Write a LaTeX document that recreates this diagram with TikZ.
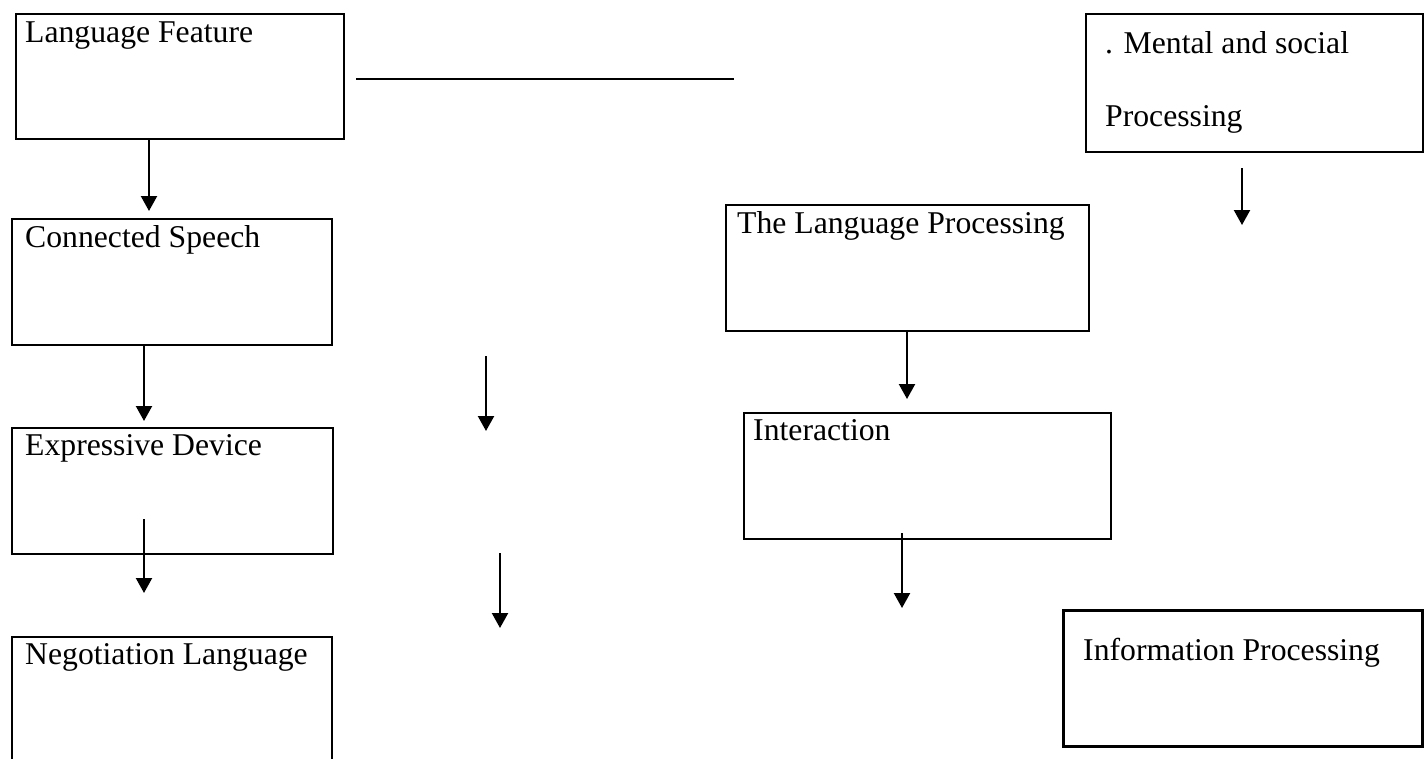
\documentclass[tikz,border=0pt]{standalone}
\usepackage{fontspec}
\setmainfont{Liberation Serif}
\usetikzlibrary{arrows.meta}

\begin{document}
\begin{tikzpicture}[x=1pt, y=-1pt,
		box/.style={draw, rectangle, line width=2.4pt, inner sep=0pt, anchor=north west},
		txt/.style={anchor=base west, inner sep=0pt, align=left, font=\fontsize{31.7}{38}\selectfont},
		arr/.style={-{Triangle[length=15pt, width=16pt]}, line width=2.2pt}]
		
		\useasboundingbox (0,0) rectangle (1424,758);
		\clip (0,0) rectangle (1424,758);
		
		% left column
		\node[box, minimum width=328pt, minimum height=125pt] (lf) at (15,13) {};
		\node[box, minimum width=320pt, minimum height=126pt] (cs) at (11,218) {};
		\node[box, minimum width=321pt, minimum height=126pt] (ed) at (11,427) {};
		\node[box, minimum width=320pt, minimum height=126pt] (nl) at (11,636) {};
		\node[txt] (lftext) at (25,42) {Language Feature};
		\node[txt] (cstext) at (25,247) {Connected Speech};
		\node[txt] (edtext) at (25,455) {Expressive Device};
		\node[txt] (nltext) at (25,664) {Negotiation Language};
		
		% right side
		\node[box, minimum width=337pt, minimum height=138pt] (ms) at (1085,13) {};
		\node[box, minimum width=363pt, minimum height=126pt] (tlp) at (725,204) {};
		\node[box, minimum width=367pt, minimum height=126pt] (int) at (743,412) {};
		\node[box, line width=3.2pt, minimum width=359pt, minimum height=136pt] (ip) at (1062,609) {};
		\node[txt, font=\fontsize{31.7}{73}\selectfont] (mstext) at (1105,126) {. Mental and social\\Processing};
		\node[txt] (tlptext) at (737,233) {The Language Processing};
		\node[txt] (inttext) at (753,440) {Interaction};
		\node[txt] (iptext) at (1083,660) {Information Processing};
		
		\coordinate (a1) at (149,211);
		\coordinate (a2) at (144,421);
		\coordinate (a3s) at (144,519);
		\coordinate (a3) at (144,593);
		\coordinate (m1s) at (486,356);
		\coordinate (m1) at (486,431);
		\coordinate (m2s) at (500,553);
		\coordinate (m2) at (500,628);
		\coordinate (r1s) at (1242,168);
		\coordinate (r1) at (1242,225);
		\coordinate (r2) at (907,399);
		\coordinate (r3s) at (902,533);
		\coordinate (r3) at (902,608);
		\coordinate (hl) at (356,79);
		\coordinate (hr) at (734,79);
		
		\draw[line width=2pt] (hl) -- (hr);
		\draw[arr] (a1 |- lf.south) -- (a1);
		\draw[arr] (a2 |- cs.south) -- (a2);
		\draw[arr] (a3s) -- (a3);
		\draw[arr] (m1s) -- (m1);
		\draw[arr] (m2s) -- (m2);
		\draw[arr] (r1s) -- (r1);
		\draw[arr] (r2 |- tlp.south) -- (r2);
		\draw[arr] (r3s) -- (r3);
		
	\end{tikzpicture}
\end{document}
